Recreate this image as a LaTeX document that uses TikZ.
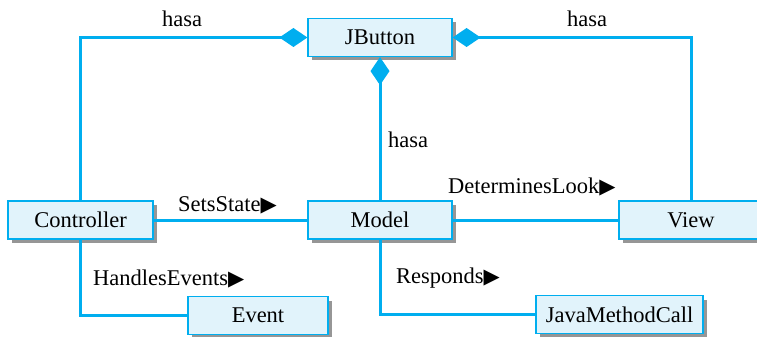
\documentclass[tikz,border=0pt]{standalone}
\usepackage{fontspec}
\setmainfont{Liberation Serif}
\newfontfamily\symfont{DejaVu Sans}
\usetikzlibrary{arrows.meta,shadows}
\definecolor{umlcyan}{RGB}{0,174,239}
\definecolor{umlfill}{RGB}{225,243,251}
\definecolor{umlshadow}{RGB}{150,150,150}
\newcommand{\tri}{{\fontsize{21}{21}\symfont ▶}}
\tikzset{
  cls/.style={draw=umlcyan, line width=1.2pt, fill=umlfill, inner sep=0pt,
    minimum height=38pt, font=\fontsize{22.5}{24}\selectfont,
    drop shadow={shadow xshift=4pt, shadow yshift=-4pt, fill=umlshadow, opacity=1}},
  conn/.style={draw=umlcyan, line width=3pt},
  agg/.style={conn, -{Diamond[length=28pt,width=19pt,fill=umlcyan]}},
  lbl/.style={font=\fontsize{22.5}{24}\selectfont, anchor=base west, inner sep=0pt}
}
\begin{document}
\begin{tikzpicture}[x=1pt,y=-1pt]
\useasboundingbox (0,0) rectangle (757,337);
\clip (0,0) rectangle (757,337);
\node[cls, minimum width=144pt] (JButton) at (380,37.5) {JButton};
\node[cls, minimum width=145pt] (Controller) at (80.5,220) {Controller};
\node[cls, minimum width=144pt] (Model) at (380,220) {Model};
\node[cls, minimum width=144pt] (View) at (691,220) {View};
\node[cls, minimum width=140pt] (Event) at (258,315.5) {Event};
\node[cls, minimum width=167pt] (JavaMethodCall) at (619.5,314.5) {JavaMethodCall};

\draw[agg] (Controller.north) |- (JButton.west);
\draw[agg] (View.north) |- (JButton.east);
\draw[agg] (Model.north) -- (JButton.south);
\draw[conn] (Controller.east) -- (Model.west);
\draw[conn] (Model.east) -- (View.west);
\draw[conn] (Controller.south) |- (Event.west);
\draw[conn] (Model.south) |- (JavaMethodCall.west);

\node[lbl] (l1) at (162,27) {hasa};
\node[lbl] (l2) at (567,27) {hasa};
\node[lbl] (l3) at (388,147) {hasa};
\node[lbl] (l4) at (178,211) {SetsState\tri};
\node[lbl] (l5) at (448,193) {DeterminesLook\tri};
\node[lbl] (l6) at (93,285) {HandlesEvents\tri};
\node[lbl] (l7) at (396,283) {Responds\tri};
\end{tikzpicture}
\end{document}
